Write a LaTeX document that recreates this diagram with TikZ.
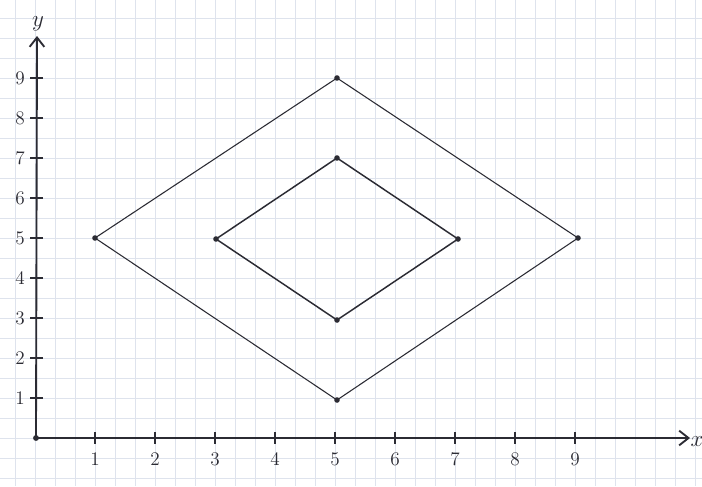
\documentclass[tikz,border=0pt]{standalone}
\usetikzlibrary{arrows.meta}
\definecolor{gridc}{rgb}{0.87,0.89,0.93}
\definecolor{ink}{rgb}{0.17,0.17,0.2}
\begin{document}
\begin{tikzpicture}[x=0.75pt,y=-0.75pt,
  gridline/.style={draw=gridc,line width=0.6pt},
  axis/.style={draw=ink,line width=1.4pt},
  tick/.style={draw=ink,line width=1.1pt},
  edge/.style={draw=ink,line width=0.8pt},
  inedge/.style={draw=ink,line width=1.1pt},
  dot/.style={circle,fill=ink,inner sep=0pt,minimum size=4.2pt},
  lab/.style={text=ink,font=\Large,inner sep=0pt},
  axname/.style={text=ink,font=\LARGE,inner sep=0pt}]
\useasboundingbox (0,0) rectangle (702,486);
\fill[white] (0,0) rectangle (702,486);
% grid paper
\foreach \x in {15,35,...,695} \draw[gridline] (\x,0) -- (\x,486);
\foreach \y in {18,38,...,478} \draw[gridline] (0,\y) -- (702,\y);
% axes
\coordinate (O) at (36,438);
\coordinate (xend) at (690,438);
\coordinate (yend) at (37,36);
\draw[axis,-{Straight Barb[length=7pt,width=11pt]}] (O) -- (xend);
\draw[axis,-{Straight Barb[length=7pt,width=11pt]}] (O) -- (yend);
\fill[ink] (O) circle (2.2pt);
\node[axname] (xname) at (697,442) {$x$};
\node[axname] (yname) at (38,24) {$y$};
% x ticks
\foreach \k in {1,...,9} {
  \pgfmathsetmacro{\xx}{35+60*\k}
  \draw[tick] (\xx,432) -- (\xx,444);
  \node[lab] (xl\k) at (\xx,459) {\k};
}
% y ticks
\foreach \k in {1,...,9} {
  \pgfmathsetmacro{\yy}{438-40*\k}
  \draw[tick] (30,\yy) -- (43,\yy);
  \node[lab] (yl\k) at (20,\yy) {\k};
}
% outer diamond
\node[dot] (A) at (95,238) {};
\node[dot] (B) at (337,78) {};
\node[dot] (C) at (578,238) {};
\node[dot] (D) at (337,400) {};
\draw[edge] (A.center) -- (B.center) -- (C.center) -- (D.center) -- (A.center);
% inner diamond
\node[dot] (E) at (216,239) {};
\node[dot] (F) at (337,158) {};
\node[dot] (G) at (458,239) {};
\node[dot] (H) at (337,320) {};
\draw[inedge] (E.center) -- (F.center) -- (G.center) -- (H.center) -- (E.center);
\end{tikzpicture}
\end{document}
